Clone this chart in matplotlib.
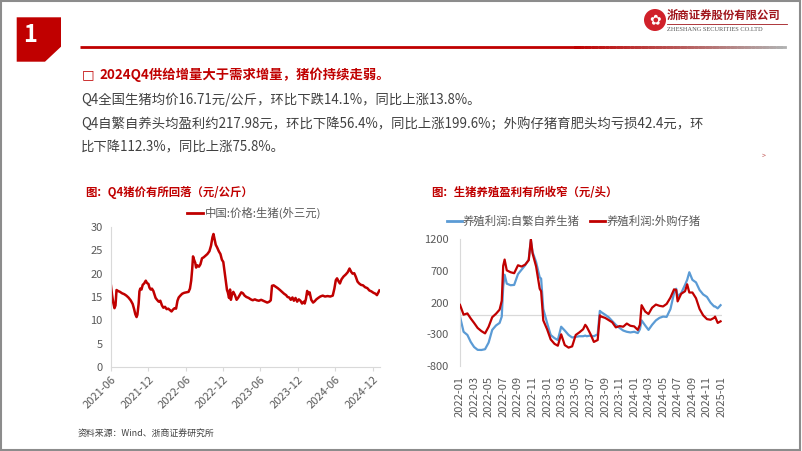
import matplotlib
matplotlib.use("Agg")
import matplotlib.pyplot as plt
import matplotlib.dates as mdates
from matplotlib.patches import Polygon, Rectangle, Ellipse
from matplotlib.lines import Line2D
from matplotlib.collections import LineCollection
from matplotlib.colors import to_rgb
import numpy as np
import pandas as pd

plt.rcParams['font.family'] = ['Noto Sans CJK SC', 'DejaVu Sans']
plt.rcParams['axes.unicode_minus'] = False

# ---- data: live hog price (yuan/kg) ----
price_dates = [
    "2021-06-01", "2021-06-06", "2021-06-12", "2021-06-18", "2021-06-23", "2021-06-28",
    "2021-07-05", "2021-07-15", "2021-07-25", "2021-08-05", "2021-08-15", "2021-08-25",
    "2021-09-05", "2021-09-15", "2021-09-22", "2021-09-28", "2021-10-04", "2021-10-08",
    "2021-10-14", "2021-10-18", "2021-10-22", "2021-10-28", "2021-11-03", "2021-11-10",
    "2021-11-18", "2021-11-24", "2021-12-01", "2021-12-06", "2021-12-12", "2021-12-18",
    "2021-12-25", "2022-01-05", "2022-01-12", "2022-01-20", "2022-01-28", "2022-02-05",
    "2022-02-12", "2022-02-20", "2022-02-28", "2022-03-08", "2022-03-16", "2022-03-24",
    "2022-03-31", "2022-04-08", "2022-04-15", "2022-04-22", "2022-04-28", "2022-05-06",
    "2022-05-15", "2022-05-25", "2022-06-05", "2022-06-15", "2022-06-22", "2022-06-28",
    "2022-07-03", "2022-07-07", "2022-07-12", "2022-07-18", "2022-07-22", "2022-07-28",
    "2022-08-05", "2022-08-12", "2022-08-20", "2022-08-28", "2022-09-05", "2022-09-15",
    "2022-09-25", "2022-10-03", "2022-10-10", "2022-10-15", "2022-10-20", "2022-10-26",
    "2022-11-02", "2022-11-10", "2022-11-18", "2022-11-25", "2022-12-02", "2022-12-08",
    "2022-12-14", "2022-12-20", "2022-12-24", "2022-12-30", "2023-01-04", "2023-01-08",
    "2023-01-14", "2023-01-20", "2023-01-28", "2023-02-05", "2023-02-12", "2023-02-20",
    "2023-02-28", "2023-03-08", "2023-03-16", "2023-03-25", "2023-04-05", "2023-04-15",
    "2023-04-25", "2023-05-05", "2023-05-15", "2023-05-25", "2023-06-05", "2023-06-15",
    "2023-06-25", "2023-07-05", "2023-07-15", "2023-07-22", "2023-07-28", "2023-08-05",
    "2023-08-15", "2023-08-25", "2023-09-05", "2023-09-15", "2023-09-25", "2023-10-05",
    "2023-10-12", "2023-10-20", "2023-10-28", "2023-11-05", "2023-11-12", "2023-11-20",
    "2023-11-28", "2023-12-06", "2023-12-14", "2023-12-22", "2023-12-30", "2024-01-04",
    "2024-01-10", "2024-01-16", "2024-01-22", "2024-01-28", "2024-02-05", "2024-02-14",
    "2024-02-22", "2024-03-01", "2024-03-10", "2024-03-20", "2024-04-01", "2024-04-12",
    "2024-04-25", "2024-05-08", "2024-05-20", "2024-05-28", "2024-06-04", "2024-06-10",
    "2024-06-18", "2024-06-24", "2024-07-02", "2024-07-12", "2024-07-22", "2024-08-01",
    "2024-08-10", "2024-08-18", "2024-08-25", "2024-09-02", "2024-09-10", "2024-09-18",
    "2024-09-26", "2024-10-05", "2024-10-15", "2024-10-25", "2024-11-05", "2024-11-15",
    "2024-11-25", "2024-12-05", "2024-12-15", "2024-12-22", "2024-12-28", "2025-01-03",
]
price_values = [
    17.4, 15.5, 13.8, 12.6, 13.2, 16.5,
    16.3, 16.1, 15.8, 15.6, 15.3, 14.9,
    14.3, 13.5, 12.4, 11.3, 10.7, 11.2,
    13.5, 16.2, 16.8, 16.6, 17.6, 17.9,
    18.5, 18.0, 17.8, 17.0, 16.6, 16.8,
    16.3, 14.8, 14.4, 14.0, 14.2, 13.2,
    12.7, 12.9, 12.4, 12.5, 12.2, 11.9,
    12.3, 12.6, 12.5, 14.2, 14.9, 15.3,
    15.7, 15.9, 16.0, 16.1, 16.8, 18.5,
    21.0, 23.7, 23.0, 22.3, 21.3, 21.8,
    21.5, 22.0, 23.3, 23.5, 23.8, 24.2,
    24.8, 26.0, 27.8, 28.5, 27.5, 26.2,
    25.6, 24.8, 24.2, 23.0, 22.5, 20.5,
    18.5, 16.5, 16.0, 14.8, 16.6, 14.4,
    15.6, 16.1, 15.4, 14.4, 14.8, 15.4,
    16.0, 15.8, 15.3, 15.0, 14.8, 14.5,
    14.3, 14.5, 14.3, 14.2, 14.4, 14.2,
    14.0, 13.8, 14.0, 14.3, 17.4, 17.5,
    17.2, 16.9, 16.5, 16.1, 15.7, 15.4,
    15.0, 14.9, 14.4, 14.9, 14.2, 14.8,
    14.0, 14.5, 14.2, 13.6, 14.0, 13.6,
    14.6, 16.3, 15.6, 16.0, 14.4, 13.8,
    14.1, 14.5, 14.8, 15.1, 15.3, 15.1,
    15.2, 15.1, 15.3, 16.8, 18.6, 19.0,
    18.3, 17.9, 18.8, 19.4, 19.8, 20.3,
    21.1, 20.4, 20.0, 20.1, 19.3, 18.3,
    17.9, 17.6, 17.5, 17.1, 16.9, 16.4,
    16.2, 15.9, 15.7, 15.4, 15.9, 16.4,
]
price_ticks = ["2021-06-01", "2021-12-01", "2022-06-01", "2022-12-01", "2023-06-01",
               "2023-12-01", "2024-06-01", "2024-12-01"]

# ---- data: hog farming profit (yuan/head) ----
profit_dates = [
    "2022-01-01", "2022-01-16", "2022-02-01", "2022-02-15", "2022-03-01", "2022-03-16",
    "2022-04-01", "2022-04-16", "2022-05-01", "2022-05-16", "2022-06-01", "2022-06-16",
    "2022-06-25", "2022-07-01", "2022-07-07", "2022-07-16", "2022-08-01", "2022-08-16",
    "2022-09-01", "2022-09-16", "2022-10-01", "2022-10-16", "2022-10-25", "2022-11-01",
    "2022-11-16", "2022-12-01", "2022-12-07", "2022-12-16", "2023-01-01", "2023-01-16",
    "2023-02-01", "2023-02-15", "2023-03-01", "2023-03-16", "2023-04-01", "2023-04-16",
    "2023-05-01", "2023-05-16", "2023-06-01", "2023-06-10", "2023-06-16", "2023-07-01",
    "2023-07-16", "2023-08-01", "2023-08-10", "2023-08-16", "2023-09-01", "2023-09-16",
    "2023-10-01", "2023-10-16", "2023-11-01", "2023-11-16", "2023-12-01", "2023-12-16",
    "2024-01-01", "2024-01-16", "2024-01-25", "2024-02-01", "2024-02-16", "2024-03-01",
    "2024-03-16", "2024-04-01", "2024-04-16", "2024-05-01", "2024-05-16", "2024-06-01",
    "2024-06-16", "2024-06-25", "2024-07-01", "2024-07-16", "2024-08-01", "2024-08-10",
    "2024-08-19", "2024-09-01", "2024-09-16", "2024-10-01", "2024-10-16", "2024-11-01",
    "2024-11-16", "2024-12-01", "2024-12-05", "2024-12-16", "2024-12-28",
]
profit_self_bred = [
    -20, -260, -310, -420, -500, -545,
    -547, -535, -430, -230, -160, -120,
    -20, 450, 640, 500, 475, 480,
    650, 720, 790, 880, 1190, 1000,
    840, 600, 580, 100, -120, -310,
    -360, -390, -180, -240, -310, -350,
    -340, -330, -330, -320, -330, -320,
    -330, -300, 70, 50, 10, -30,
    -90, -150, -200, -240, -260, -270,
    -260, -280, -220, -80, -160, -230,
    -150, -80, -40, -20, -25, 100,
    350, 420, 300, 350, 480, 560,
    680, 560, 520, 400, 330, 290,
    200, 140, 140, 110, 160,
]
profit_purchased = [
    165, 10, 30, -50, -120, -200,
    -250, -285, -180, -30, 25, 90,
    230, 780, 880, 710, 680, 665,
    790, 770, 800, 870, 1200, 980,
    770, 420, 380, -80, -220, -380,
    -450, -480, -300, -470, -510, -490,
    -310, -270, -220, -150, -180, -290,
    -420, -390, 0, -20, -40, -75,
    -110, -190, -170, -180, -130, -165,
    -175, -230, -150, 160, 60, 20,
    120, 170, 150, 140, 180, 280,
    410, 400, 220, 340, 380, 490,
    360, 360, 270, 100, 0, -60,
    -70, -40, -20, -120, -95,
]
profit_ticks = pd.date_range("2022-01-01", "2025-01-01", freq="2MS")

RED = '#C00000'
BLUE = '#5B9BD5'
GRAY = '#595959'
TEXT = '#404040'
LINEGRAY = '#D9D9D9'

W, H = 802, 451


def fx(x):
    return x / W


def fy(y):
    return 1 - y / H


fig = plt.figure(figsize=(W / 100, H / 100), dpi=100)

# frame
fig.add_artist(Rectangle((0.001, 0.002), 0.997, 0.996, transform=fig.transFigure,
                         fill=False, edgecolor='#8C8C8C', lw=1.5))

# section number box
box = [(16.7, 17.3), (61, 17.3), (61, 46.7), (45, 61.7), (16.7, 61.7)]
fig.add_artist(Polygon([(fx(x), fy(y)) for x, y in box], closed=True,
                       transform=fig.transFigure, facecolor=RED, edgecolor='none'))
fig.text(fx(30), fy(35), "1", color='white', fontsize=17, fontweight='bold',
         ha='center', va='center')

# header line, red fading to gray
fig.add_artist(Line2D([fx(80), fx(580)], [fy(47), fy(47)], color=RED, lw=2,
                      solid_capstyle='butt'))
xs = np.linspace(575, 785, 60)
segs = [[(fx(xs[i]), fy(47)), (fx(xs[i + 1]), fy(47))] for i in range(len(xs) - 1)]
r0, g0 = np.array(to_rgb(RED)), np.array(to_rgb('#B0B0B0'))
cols = [tuple(r0 * (1 - t) + g0 * t) for t in np.linspace(0, 1, len(xs) - 1)]
fig.add_artist(LineCollection(segs, colors=cols, linewidths=2, capstyle='projecting',
                              transform=fig.transFigure))

# logo
fig.add_artist(Ellipse((fx(655), fy(20)), 22 / W, 22 / H, transform=fig.transFigure,
                       facecolor='#D0202A', edgecolor='none'))
fig.text(fx(655), fy(20.5), "✿", color='white', fontsize=10, ha='center', va='center',
         family=['DejaVu Sans'])
fig.text(fx(667), fy(15), "浙商证券股份有限公司", color='#A0151B', fontsize=8.2,
         fontweight='bold', ha='left', va='center')
fig.add_artist(Line2D([fx(667), fx(787)], [fy(24), fy(24)], color='#A0151B', lw=0.6))
fig.text(fx(667), fy(29.5), "ZHESHANG SECURITIES CO.LTD", color='#555555', fontsize=4.6,
         ha='left', va='center', family=['Liberation Serif'])

# bullet text
fig.text(fx(82), fy(75), "□", color=RED, fontsize=9.5, fontweight='bold', ha='left',
         va='center', family=['DejaVu Sans'])
fig.text(fx(99), fy(75), "2024Q4供给增量大于需求增量，猪价持续走弱。", color=RED,
         fontsize=9.6, fontweight='bold', ha='left', va='center')
body = [
    "Q4全国生猪均价16.71元/公斤，环比下跌14.1%，同比上涨13.8%。",
    "Q4自繁自养头均盈利约217.98元，环比下降56.4%，同比上涨199.6%；外购仔猪育肥头均亏损42.4元，环",
    "比下降112.3%，同比上涨75.8%。",
]
for i, line in enumerate(body):
    fig.text(fx(81), fy(100 + 23.5 * i), line, color=TEXT, fontsize=9.6, ha='left', va='center')
fig.text(fx(764), fy(156), ">", color='#C0504D', fontsize=5, ha='center', va='center')

# chart titles
fig.text(fx(85), fy(192), "图：Q4猪价有所回落（元/公斤）", color=RED, fontsize=8.2,
         fontweight='bold', ha='left', va='center')
fig.text(fx(431), fy(192), "图：生猪养殖盈利有所收窄（元/头）", color=RED, fontsize=8.2,
         fontweight='bold', ha='left', va='center')

# ---- left chart ----
ax1 = fig.add_axes([fx(111), fy(367), (380 - 111) / W, (367 - 227) / H])
ax1.plot(pd.to_datetime(price_dates), price_values, color=RED, lw=1.8)
ax1.set_ylim(0, 30)
ax1.set_yticks(range(0, 31, 5))
ax1.set_xlim(pd.Timestamp("2021-06-01"), pd.Timestamp("2025-01-06"))
ax1.set_xticks(pd.to_datetime(price_ticks))
ax1.xaxis.set_major_formatter(mdates.DateFormatter('%Y-%m'))
for s in ['top', 'right']:
    ax1.spines[s].set_visible(False)
for s in ['left', 'bottom']:
    ax1.spines[s].set_color(LINEGRAY)
ax1.tick_params(axis='y', length=0, labelsize=8, labelcolor=GRAY, pad=6)
ax1.tick_params(axis='x', length=3, color=LINEGRAY, labelsize=8, labelcolor=GRAY, pad=2)
for lab in ax1.get_xticklabels():
    lab.set_rotation(45)
    lab.set_ha('right')
    lab.set_rotation_mode('anchor')

fig.add_artist(Line2D([fx(187), fx(203)], [fy(213), fy(213)], color=RED, lw=2))
fig.text(fx(205), fy(213), "中国:价格:生猪(外三元)", color=GRAY, fontsize=8.2,
         ha='left', va='center')

# ---- right chart ----
ax2 = fig.add_axes([fx(460), fy(366), (722 - 460) / W, (366 - 239.3) / H])
pdates = pd.to_datetime(profit_dates)
ax2.axhline(0, color=LINEGRAY, lw=0.9, zorder=1)
ax2.plot(pdates, profit_self_bred, color=BLUE, lw=1.6, zorder=2)
ax2.plot(pdates, profit_purchased, color=RED, lw=1.6, zorder=3)
ax2.set_ylim(-800, 1200)
ax2.set_yticks([-800, -300, 200, 700, 1200])
ax2.set_xlim(pd.Timestamp("2022-01-01"), pd.Timestamp("2025-01-03"))
ax2.set_xticks(profit_ticks)
ax2.xaxis.set_major_formatter(mdates.DateFormatter('%Y-%m'))
for s in ['top', 'right', 'bottom']:
    ax2.spines[s].set_visible(False)
ax2.spines['left'].set_color(LINEGRAY)
ax2.tick_params(axis='y', length=0, labelsize=8, labelcolor=GRAY, pad=8)
ax2.tick_params(axis='x', length=0, labelsize=8, labelcolor=GRAY, pad=7, rotation=90)

fig.add_artist(Line2D([fx(447), fx(462)], [fy(221), fy(221)], color=BLUE, lw=2))
fig.text(fx(463), fy(221), "养殖利润:自繁自养生猪", color=GRAY, fontsize=8.2,
         ha='left', va='center')
fig.add_artist(Line2D([fx(590), fx(605)], [fy(221), fy(221)], color=RED, lw=2))
fig.text(fx(607), fy(221), "养殖利润:外购仔猪", color=GRAY, fontsize=8.2,
         ha='left', va='center')

# source
fig.text(fx(78), fy(434), "资料来源：Wind、浙商证券研究所", color=TEXT, fontsize=6.4,
         ha='left', va='center')

fig.savefig("out.png", dpi=100)
